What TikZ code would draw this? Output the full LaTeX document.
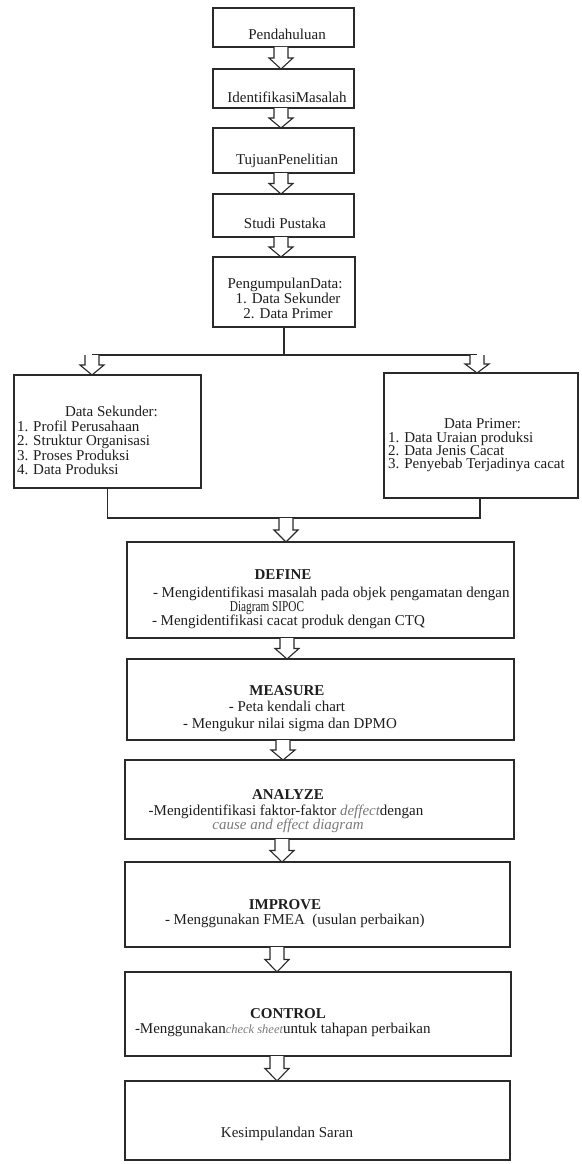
\documentclass[tikz,border=0pt]{standalone}
\usepackage{fontspec}
\usepackage{graphicx}
\setmainfont{Liberation Serif}
\usetikzlibrary{calc}
\definecolor{ln}{HTML}{2A2A2A}
\definecolor{tx}{HTML}{1E1E1E}
\definecolor{it}{HTML}{7A7A7A}
\tikzset{
  box/.style={draw=ln, line width=1.1pt, rectangle, inner sep=0pt, outer sep=0pt},
  conn/.style={draw=ln, line width=1.1pt},
  barr/.style={draw=ln, line width=1.1pt, fill=white, line join=miter},
  txt/.style={inner sep=0pt, outer sep=0pt, anchor=base, text=tx, font=\fontsize{15}{15}\selectfont},
  txtl/.style={txt, anchor=base west},
  hd/.style={txt, font=\fontsize{15}{15}\selectfont\bfseries},
}
\newcommand\itsm[1]{\textcolor{it}{\fontsize{12.5}{12.5}\selectfont\itshape #1}}
\newcommand\itgr[1]{\textcolor{it}{\itshape #1}}
% block arrow: x position, start coordinate, end coordinate
\newcommand\barrow[3]{%
  \draw[barr] let \p1=#2, \p2=#3, \n1={0.5*\y1+0.5*\y2} in
    (#1pt-7pt,\y1) -- (#1pt-7pt,\n1) -- (#1pt-12pt,\n1) -- (#1pt,\y2)
    -- (#1pt+12pt,\n1) -- (#1pt+7pt,\n1) -- (#1pt+7pt,\y1);
}
\begin{document}
\begin{tikzpicture}[x=1pt,y=-1pt]
\fill[white] (0,0) rectangle (581,1164);
\useasboundingbox (0,0) rectangle (581,1164);

% boxes
\node[box, minimum width=141pt, minimum height=39pt] (p1) at (283.5,27.5) {};
\node[box, minimum width=141pt, minimum height=39pt] (p2) at (283.5,88.5) {};
\node[box, minimum width=141pt, minimum height=45pt] (p3) at (283.5,150.5) {};
\node[box, minimum width=141pt, minimum height=43pt] (p4) at (283.5,215.5) {};
\node[box, minimum width=142pt, minimum height=70pt] (p5) at (284,292) {};
\node[box, minimum width=187pt, minimum height=113pt] (sek) at (107.5,431.5) {};
\node[box, minimum width=194pt, minimum height=125pt] (pri) at (481,435.5) {};
\node[box, minimum width=387pt, minimum height=96pt] (def) at (320.5,590) {};
\node[box, minimum width=387pt, minimum height=81pt] (mea) at (320.5,699.5) {};
\node[box, minimum width=389pt, minimum height=79pt] (ana) at (319.5,799.5) {};
\node[box, minimum width=385pt, minimum height=85pt] (imp) at (317.5,904.5) {};
\node[box, minimum width=386pt, minimum height=84pt] (con) at (318,1014) {};
\node[box, minimum width=385pt, minimum height=79pt] (kes) at (317.5,1120.5) {};

% texts
\node[txt] (t1) at (287,40) {Pendahuluan};
\node[txt] (t2) at (287,102) {IdentifikasiMasalah};
\node[txt] (t3) at (287,164) {TujuanPenelitian};
\node[txt] (t4) at (285,228) {Studi Pustaka};
\node[txt] (t5a) at (285,288) {PengumpulanData:};
\node[txt] (t5b) at (288,303) {1. Data Sekunder};
\node[txt] (t5c) at (288,318) {2. Data Primer};

\node[txtl] (s0) at (65,416) {Data Sekunder:};
\node[txtl] (s1) at (17,431) {1. Profil Perusahaan};
\node[txtl] (s2) at (17,445) {2. Struktur Organisasi};
\node[txtl] (s3) at (17,460) {3. Proses Produksi};
\node[txtl] (s4) at (17,474) {4. Data Produksi};

\node[txtl] (r0) at (444,428) {Data Primer:};
\node[txtl] (r1) at (388,442) {1. Data Uraian produksi};
\node[txtl] (r2) at (388,455) {2. Data Jenis Cacat};
\node[txtl] (r3) at (388,468) {3. Penyebab Terjadinya cacat};

\node[hd] (d0) at (283,579) {DEFINE};
\node[txtl] (d1) at (153,597) {- Mengidentifikasi masalah pada objek pengamatan dengan};
\node[txt] (d2) at (267,611) {\scalebox{0.75}[1]{Diagram SIPOC}};
\node[txtl] (d3) at (152,625) {- Mengidentifikasi cacat produk dengan CTQ};

\node[hd] (m0) at (287,695) {MEASURE};
\node[txt] (m1) at (287,711) {- Peta kendali chart};
\node[txt] (m2) at (290,728) {- Mengukur nilai sigma dan DPMO};

\node[hd] (a0) at (288,799) {ANALYZE};
\node[txt] (a1) at (286,815) {-Mengidentifikasi faktor-faktor \itgr{deffect}dengan};
\node[txt] (a2) at (288,829) {\itgr{cause and effect diagram}};

\node[hd] (i0) at (285,909) {IMPROVE};
\node[txtl] (i1) at (165,924) {- Menggunakan FMEA\ \ (usulan perbaikan)};

\node[hd] (c0) at (288,1018) {CONTROL};
\node[txtl] (c1) at (135,1033) {-Menggunakan\itsm{check sheet}untuk tahapan perbaikan};

\node[txt] (k0) at (287,1137) {Kesimpulandan Saran};

% connectors
\barrow{281}{(p1.south)}{(p2.north)}
\barrow{281}{(p2.south)}{(p3.north)}
\barrow{281}{(p3.south)}{(p4.north)}
\barrow{281}{(p4.south)}{(p5.north)}

\coordinate (brL) at (92,355);
\coordinate (brR) at (477,355);
\draw[conn] (p5.south) -- (p5.south |- brL);
\draw[conn] (brL) -- (brR);
\barrow{92}{(brL)}{(sek.north)}
\barrow{477}{(brR)}{(pri.north)}

\coordinate (mR) at (480,518);
\coordinate (mrg) at (286,518);
\draw[conn] (sek.south) -- (sek.south |- mR) -- (mR) -- (mR |- pri.south);
\barrow{286}{(mrg)}{(def.north)}

\barrow{287}{(def.south)}{(mea.north)}
\barrow{283}{(mea.south)}{(ana.north)}
\barrow{282}{(ana.south)}{(imp.north)}
\barrow{277}{(imp.south)}{(con.north)}
\barrow{277}{(con.south)}{(kes.north)}
\end{tikzpicture}
\end{document}
